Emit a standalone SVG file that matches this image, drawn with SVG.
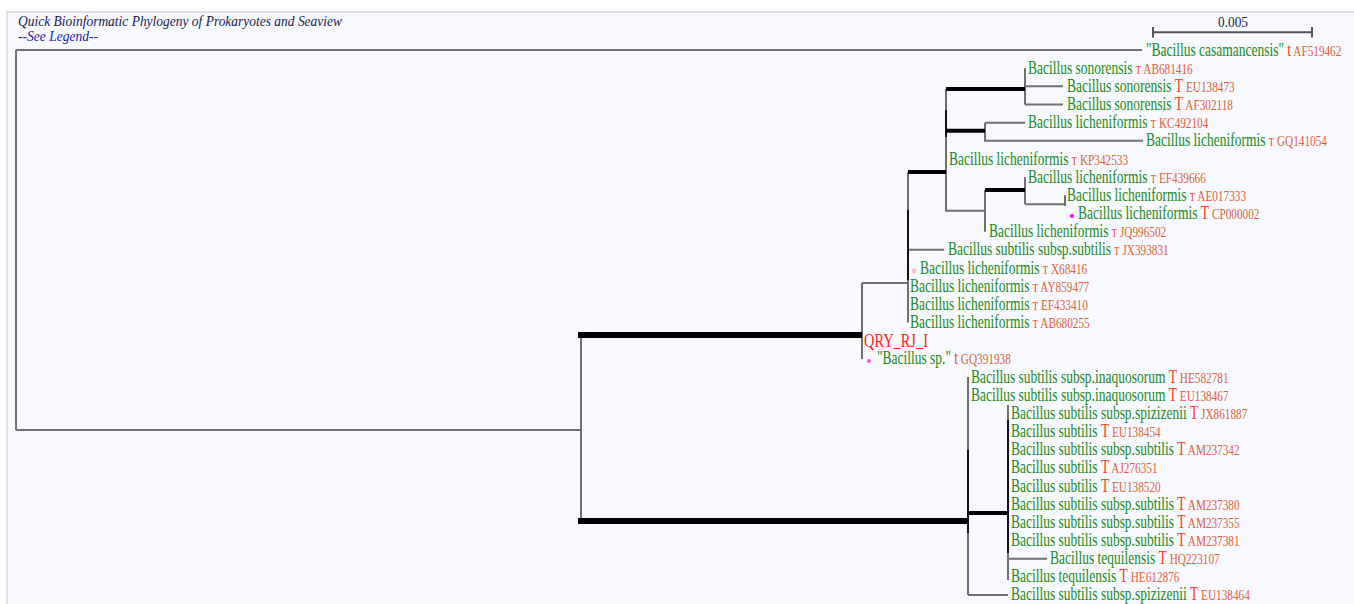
<svg xmlns="http://www.w3.org/2000/svg" width="1354" height="604" viewBox="0 0 1354 604">
<style>
.br{stroke:#707070;stroke-width:2;fill:none}
.bd{stroke:#111;stroke-width:2;fill:none}
.tk{stroke:#000;stroke-width:4;fill:none}
.tk6{stroke:#000;stroke-width:6;fill:none}
text{font-family:"Liberation Serif","Times New Roman",serif}
.lab{font-size:18px;fill:#238a23}
.ts{font-size:11.5px;fill:#f4401f}
.tb{font-size:18px;fill:#f4401f}
.ac{font-size:15px;fill:#e0603a}
.qry{font-size:18px;fill:#ff1a1a}
.ttl{font-size:15px;font-style:italic}
</style>
<rect x="0" y="0" width="1354" height="604" fill="#ffffff"/>
<rect x="7" y="12" width="1347" height="592" fill="#f7f9fe"/>
<path d="M7 604V12H1354" stroke="#d6d8e0" stroke-width="1.5" fill="none"/>
<g id="title">
<text class="ttl" x="18" y="26" fill="#202050" textLength="324" lengthAdjust="spacingAndGlyphs">Quick Bioinformatic Phylogeny of Prokaryotes and Seaview</text>
<text class="ttl" x="18" y="41" fill="#2020a0" textLength="80" lengthAdjust="spacingAndGlyphs">--See Legend--</text>
</g>
<g id="scalebar">
<path d="M1153 32.3H1312M1153 27V37.5M1312 27V37.5" stroke="#555" stroke-width="2" fill="none"/>
<text x="1233" y="27" font-size="15" fill="#202050" text-anchor="middle" textLength="30" lengthAdjust="spacingAndGlyphs">0.005</text>
</g>
<g id="connectors">
<path class="br" d="M16 50V430M16 50H1142M16 430H581M581 335V521.5M862 283V359M862 283H908M908 172V322.5M946 89V211.7M1025 68.2V104.5M1025 86.3H1063M1025 104.5H1063M985 122.7V141.8M985 122.7H1025M985 140.8H1143M946 210.7H985M985 190V231.7M1025 177.2V204.3M1025 204.3H1065M1065 195.3V206M908 249.8H944M968 377V595M968 595H1008M1008 405V580M1008 558.7H1047"/>
<path class="bd" d="M908 210V280M968 450V533M1008 420V553M946 110V137"/>
<path class="tk6" d="M578 335H862M578 521H968"/>
<path class="tk" d="M908 172H946M946 89H1025M946 130.7H985M985 190H1025M968 513H1008"/>
</g>
<g id="n_AF519462"><text class="lab" transform="matrix(0.75 0 0 1 1146 55.5)">"Bacillus casamancensis" <tspan class="tb">t</tspan><tspan class="ac"> AF519462</tspan></text></g>
<g id="n_AB681416"><text class="lab" transform="matrix(0.75 0 0 1 1028 73.7)">Bacillus sonorensis <tspan class="ts">T</tspan><tspan class="ac"> AB681416</tspan></text></g>
<g id="n_EU138473"><text class="lab" transform="matrix(0.75 0 0 1 1067 91.8)">Bacillus sonorensis <tspan class="tb">T</tspan><tspan class="ac"> EU138473</tspan></text></g>
<g id="n_AF302118"><text class="lab" transform="matrix(0.75 0 0 1 1067 110)">Bacillus sonorensis <tspan class="tb">T</tspan><tspan class="ac"> AF302118</tspan></text></g>
<g id="n_KC492104"><text class="lab" transform="matrix(0.75 0 0 1 1028 128.2)">Bacillus licheniformis <tspan class="ts">T</tspan><tspan class="ac"> KC492104</tspan></text></g>
<g id="n_GQ141054"><text class="lab" transform="matrix(0.75 0 0 1 1146 146.3)">Bacillus licheniformis <tspan class="ts">T</tspan><tspan class="ac"> GQ141054</tspan></text></g>
<g id="n_KP342533"><text class="lab" transform="matrix(0.75 0 0 1 949 164.5)">Bacillus licheniformis <tspan class="ts">T</tspan><tspan class="ac"> KP342533</tspan></text></g>
<g id="n_EF439666"><text class="lab" transform="matrix(0.75 0 0 1 1028 182.7)">Bacillus licheniformis <tspan class="ts">T</tspan><tspan class="ac"> EF439666</tspan></text></g>
<g id="n_AE017333"><text class="lab" transform="matrix(0.75 0 0 1 1067 200.8)">Bacillus licheniformis <tspan class="ts">T</tspan><tspan class="ac"> AE017333</tspan></text></g>
<g id="n_CP000002"><circle cx="1072" cy="216" r="2" fill="#ff00ff"/><text class="lab" transform="matrix(0.75 0 0 1 1078 219)">Bacillus licheniformis <tspan class="tb">T</tspan><tspan class="ac"> CP000002</tspan></text></g>
<g id="n_JQ996502"><text class="lab" transform="matrix(0.75 0 0 1 989 237.2)">Bacillus licheniformis <tspan class="ts">T</tspan><tspan class="ac"> JQ996502</tspan></text></g>
<g id="n_JX393831"><text class="lab" transform="matrix(0.75 0 0 1 948 255.3)">Bacillus subtilis subsp.subtilis <tspan class="ts">T</tspan><tspan class="ac"> JX393831</tspan></text></g>
<g id="n_X68416"><circle cx="914" cy="271" r="2.5" fill="#ffc4cc"/><text class="lab" transform="matrix(0.75 0 0 1 920 273.5)">Bacillus licheniformis <tspan class="ts">T</tspan><tspan class="ac"> X68416</tspan></text></g>
<g id="n_AY859477"><text class="lab" transform="matrix(0.75 0 0 1 910 291.7)">Bacillus licheniformis <tspan class="ts">T</tspan><tspan class="ac"> AY859477</tspan></text></g>
<g id="n_EF433410"><text class="lab" transform="matrix(0.75 0 0 1 910 309.8)">Bacillus licheniformis <tspan class="ts">T</tspan><tspan class="ac"> EF433410</tspan></text></g>
<g id="n_AB680255"><text class="lab" transform="matrix(0.75 0 0 1 910 328)">Bacillus licheniformis <tspan class="ts">T</tspan><tspan class="ac"> AB680255</tspan></text></g>
<g id="n_QRY_RJ_I"><text class="qry" transform="matrix(0.8 0 0 1 864 346.5)">QRY_RJ_I</text></g>
<g id="n_GQ391938"><circle cx="869" cy="361" r="2" fill="#e060e0"/><text class="lab" transform="matrix(0.75 0 0 1 877 364.3)">"Bacillus sp." <tspan class="tb">t</tspan><tspan class="ac"> GQ391938</tspan></text></g>
<g id="n_HE582781"><text class="lab" transform="matrix(0.75 0 0 1 971 382.5)">Bacillus subtilis subsp.inaquosorum <tspan class="tb">T</tspan><tspan class="ac"> HE582781</tspan></text></g>
<g id="n_EU138467"><text class="lab" transform="matrix(0.75 0 0 1 971 400.7)">Bacillus subtilis subsp.inaquosorum <tspan class="tb">T</tspan><tspan class="ac"> EU138467</tspan></text></g>
<g id="n_JX861887"><text class="lab" transform="matrix(0.75 0 0 1 1011 418.8)">Bacillus subtilis subsp.spizizenii <tspan class="tb">T</tspan><tspan class="ac"> JX861887</tspan></text></g>
<g id="n_EU138454"><text class="lab" transform="matrix(0.75 0 0 1 1011 437)">Bacillus subtilis <tspan class="tb">T</tspan><tspan class="ac"> EU138454</tspan></text></g>
<g id="n_AM237342"><text class="lab" transform="matrix(0.75 0 0 1 1011 455.2)">Bacillus subtilis subsp.subtilis <tspan class="tb">T</tspan><tspan class="ac"> AM237342</tspan></text></g>
<g id="n_AJ276351"><text class="lab" transform="matrix(0.75 0 0 1 1011 473.3)">Bacillus subtilis <tspan class="tb">T</tspan><tspan class="ac"> AJ276351</tspan></text></g>
<g id="n_EU138520"><text class="lab" transform="matrix(0.75 0 0 1 1011 491.5)">Bacillus subtilis <tspan class="tb">T</tspan><tspan class="ac"> EU138520</tspan></text></g>
<g id="n_AM237380"><text class="lab" transform="matrix(0.75 0 0 1 1011 509.7)">Bacillus subtilis subsp.subtilis <tspan class="tb">T</tspan><tspan class="ac"> AM237380</tspan></text></g>
<g id="n_AM237355"><text class="lab" transform="matrix(0.75 0 0 1 1011 527.8)">Bacillus subtilis subsp.subtilis <tspan class="tb">T</tspan><tspan class="ac"> AM237355</tspan></text></g>
<g id="n_AM237381"><text class="lab" transform="matrix(0.75 0 0 1 1011 546)">Bacillus subtilis subsp.subtilis <tspan class="tb">T</tspan><tspan class="ac"> AM237381</tspan></text></g>
<g id="n_HQ223107"><text class="lab" transform="matrix(0.75 0 0 1 1050 564.2)">Bacillus tequilensis <tspan class="tb">T</tspan><tspan class="ac"> HQ223107</tspan></text></g>
<g id="n_HE612876"><text class="lab" transform="matrix(0.75 0 0 1 1011 582.3)">Bacillus tequilensis <tspan class="tb">T</tspan><tspan class="ac"> HE612876</tspan></text></g>
<g id="n_EU138464"><text class="lab" transform="matrix(0.75 0 0 1 1011 600.3)">Bacillus subtilis subsp.spizizenii <tspan class="tb">T</tspan><tspan class="ac"> EU138464</tspan></text></g>
</svg>
